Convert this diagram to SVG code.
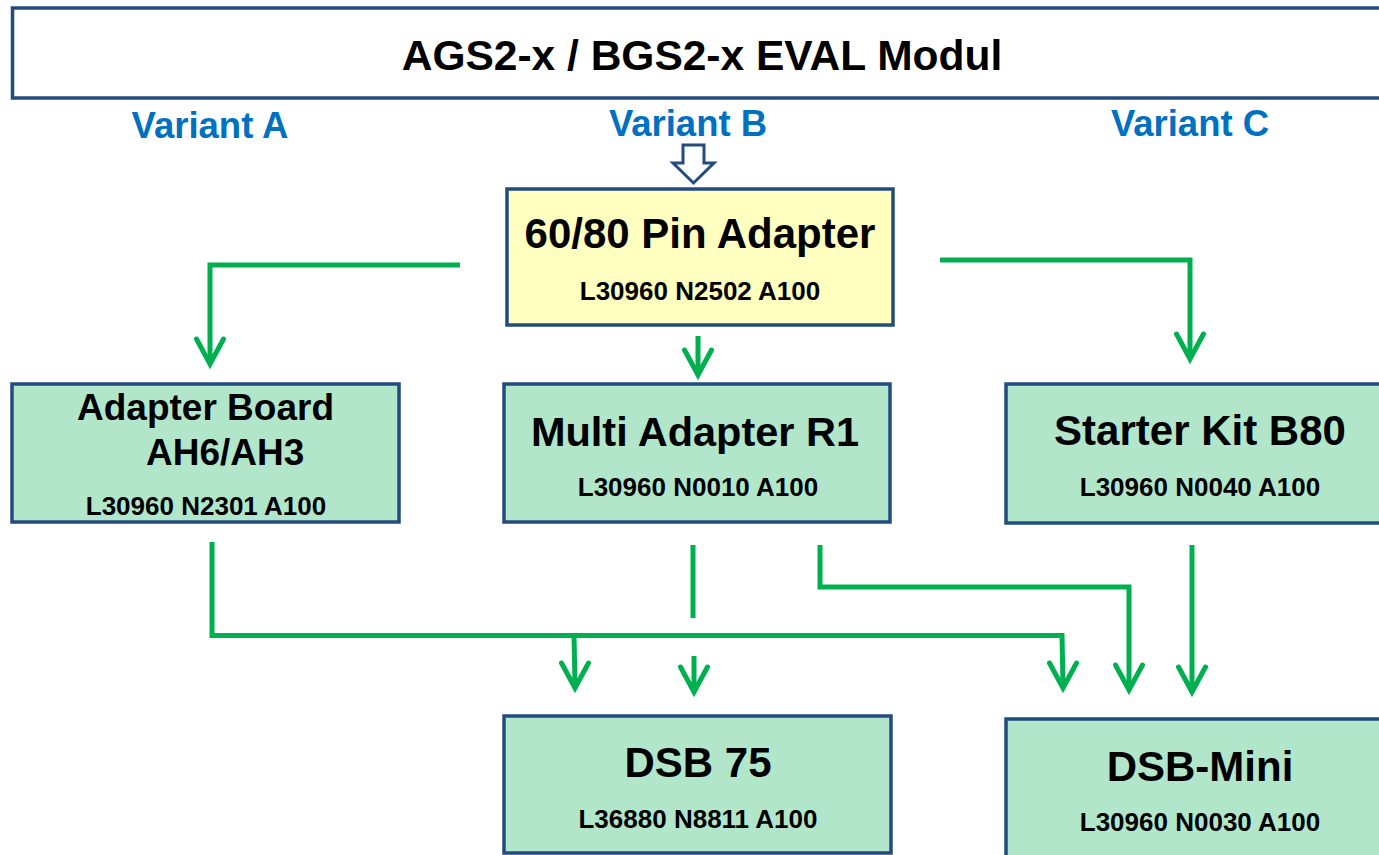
<svg xmlns="http://www.w3.org/2000/svg" width="1379" height="855" viewBox="0 0 1379 855">
<style>
.box{fill:#b2e6cb;stroke:#244b7e;stroke-width:3.5}
.yel{fill:#ffffbf;stroke:#244b7e;stroke-width:3.5}
.t{font-family:"Liberation Sans",Arial,sans-serif;font-weight:bold;fill:#000}
.big{font-size:42px;text-anchor:middle}
.code{font-size:26px;text-anchor:middle}
.var{font-family:"Liberation Sans",Arial,sans-serif;font-weight:bold;font-size:36.5px;fill:#0070c0;text-anchor:middle}
.c{fill:none;stroke:#00b050;stroke-width:5;stroke-linejoin:miter}
.hd{fill:none;stroke:#00b050;stroke-width:5;stroke-linecap:round;stroke-linejoin:miter}
</style>
<defs>
<path id="ah" class="hd" d="M-13.5,-25 L0,0 L13.5,-25"/>
</defs>
<rect width="1379" height="855" fill="#fff"/>
<g id="title">
<rect x="12.5" y="8" width="1380" height="90" fill="#fff" stroke="#244b7e" stroke-width="3.5"/>
<text class="t" x="702" y="70" font-size="42.5" text-anchor="middle">AGS2-x / BGS2-x EVAL Modul</text>
</g>
<g id="variants">
<text class="var" x="210" y="138">Variant A</text>
<text class="var" x="688" y="136">Variant B</text>
<text class="var" x="1190" y="136">Variant C</text>
</g>
<g id="inputArrow">
<path d="M683,145 L704,145 L704,163 L714,163 L693.5,183 L673,163 L683,163 Z" fill="#fff" stroke="#244b7e" stroke-width="3" stroke-linejoin="miter"/>
</g>
<g id="pinAdapter">
<rect class="yel" x="507" y="189" width="386" height="136"/>
<text class="t big" x="700" y="248">60/80 Pin Adapter</text>
<text class="t code" x="700" y="300">L30960 N2502 A100</text>
</g>
<g id="adapterBoard">
<rect class="box" x="12" y="384" width="387" height="138"/>
<text class="t" x="77" y="420" font-size="37">Adapter Board</text>
<text class="t" x="146" y="465" font-size="37">AH6/AH3</text>
<text class="t code" x="206" y="515">L30960 N2301 A100</text>
</g>
<g id="multiAdapter">
<rect class="box" x="504" y="384" width="386" height="138"/>
<text class="t" x="695" y="446" font-size="41.5" text-anchor="middle">Multi Adapter R1</text>
<text class="t code" x="698" y="496">L30960 N0010 A100</text>
</g>
<g id="starterKit">
<rect class="box" x="1006" y="384" width="390" height="139"/>
<text class="t big" x="1200" y="445">Starter Kit B80</text>
<text class="t code" x="1200" y="496">L30960 N0040 A100</text>
</g>
<g id="dsb75">
<rect class="box" x="504" y="716" width="387" height="137"/>
<text class="t big" x="698" y="777">DSB 75</text>
<text class="t code" x="698" y="828">L36880 N8811 A100</text>
</g>
<g id="dsbMini">
<rect class="box" x="1006" y="719" width="390" height="150"/>
<text class="t big" x="1200" y="781">DSB-Mini</text>
<text class="t code" x="1200" y="831">L30960 N0030 A100</text>
</g>
<g id="connectors">
<path class="c" d="M460,265 L210,265 L210,362"/>
<use href="#ah" x="210" y="364"/>
<path class="c" d="M698,336 L698,372"/>
<use href="#ah" x="698" y="375"/>
<path class="c" d="M940,260 L1190,260 L1190,357"/>
<use href="#ah" x="1190" y="359"/>
<path class="c" d="M212,542 L212,635.5 L1062,635.5 L1063,686"/>
<use href="#ah" x="1063" y="688"/>
<path class="c" d="M574,635.5 L575,686"/>
<use href="#ah" x="575" y="688"/>
<path class="c" d="M693,545 L693,618"/>
<path class="c" d="M694,656 L694,690"/>
<use href="#ah" x="694" y="692"/>
<path class="c" d="M820,545 L820,587 L1129,587 L1129,688"/>
<use href="#ah" x="1129" y="690"/>
<path class="c" d="M1192,545 L1192,690"/>
<use href="#ah" x="1192" y="692"/>
</g>
</svg>
